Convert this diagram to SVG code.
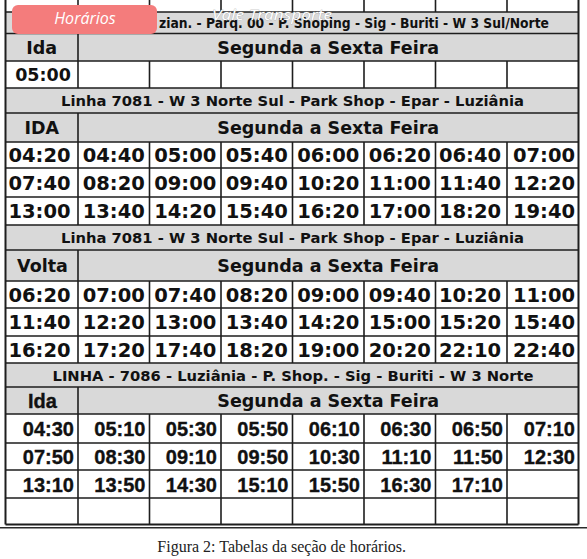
<svg xmlns="http://www.w3.org/2000/svg" width="587" height="559" viewBox="0 0 587 559">
<style>
.bg{fill:#ffffff}
.hd{fill:#d9d9d9}
.ln{stroke:#1e1e1e;stroke-width:1.6;fill:none}
.bd{stroke:#1e1e1e;stroke-width:2;fill:none}
.rt{font-family:"DejaVu Sans",sans-serif;font-weight:bold;font-size:14.8px;fill:#111;text-anchor:middle}
.sg{font-family:"DejaVu Sans",sans-serif;font-weight:bold;font-size:17.5px;fill:#111;text-anchor:middle}
.tm{font-family:"DejaVu Sans",sans-serif;font-weight:bold;font-size:19.5px;fill:#111;text-anchor:middle}
.ta{font-family:"Liberation Sans",Arial,sans-serif;font-weight:bold;font-size:20px;fill:#111;text-anchor:end;stroke:#111;stroke-width:0.35}
.ia{font-family:"Liberation Sans",Arial,sans-serif;font-weight:bold;font-size:20px;fill:#111;text-anchor:middle;stroke:#111;stroke-width:0.35}
.cap{font-family:"Liberation Serif","Times New Roman",serif;font-size:16px;fill:#222;text-anchor:middle}
.hand{font-family:"Open Sans",sans-serif;font-style:italic;fill:#ffffff}
.vt{font-family:"Open Sans",sans-serif;font-style:italic;fill:#ffffff;stroke:#9a9a9a;stroke-width:0.45;paint-order:stroke}
</style>
<rect class="bg" x="0" y="0" width="587" height="559"/>

<g id="grid-fills">
<rect class="hd" x="5.5" y="12" width="573" height="49"/>
<rect class="hd" x="5.5" y="88" width="573" height="54"/>
<rect class="hd" x="5.5" y="225" width="573" height="56"/>
<rect class="hd" x="5.5" y="363" width="573" height="51"/>
</g>

<g id="grid-lines">
<path class="ln" d="M5.5 12H578.5M5.5 33.5H578.5M5.5 61H578.5M5.5 88H578.5M5.5 113H578.5M5.5 142H578.5M5.5 168H578.5M5.5 197H578.5M5.5 225H578.5M5.5 250H578.5M5.5 281H578.5M5.5 308H578.5M5.5 336H578.5M5.5 363H578.5M5.5 387H578.5M5.5 414H578.5M5.5 443H578.5M5.5 470H578.5M5.5 498H578.5"/>
<path class="bd" d="M5.5 524.5H578.5"/>
<path class="bd" d="M5.5 0V524.5M578.5 0V524.5"/>
<path class="ln" d="M78 0V12M78 33.5V88M78 113V225M78 250V363M78 387V524.5"/>
<path class="ln" d="M149.5 0V12M149.5 61V88M149.5 142V225M149.5 281V363M149.5 414V524.5
M221 0V12M221 61V88M221 142V225M221 281V363M221 414V524.5
M292.5 0V12M292.5 61V88M292.5 142V225M292.5 281V363M292.5 414V524.5
M364 0V12M364 61V88M364 142V225M364 281V363M364 414V524.5
M435.5 0V12M435.5 61V88M435.5 142V225M435.5 281V363M435.5 414V524.5
M507 0V12M507 61V88M507 142V225M507 281V363M507 414V524.5"/>
<path d="M0 527.8H587" stroke="#2a2a2a" stroke-width="1.4"/>
</g>

<g id="table-luziania-w3">
<text class="rt" x="354" y="28" text-anchor="middle" textLength="390" lengthAdjust="spacingAndGlyphs" style="font-size:14.2px">zian.  - Parq. 00 - P. Shoping - Sig - Buriti - W 3 Sul/Norte</text>
<text class="sg" x="41.75" y="53.8">Ida</text>
<text class="sg" x="328.25" y="53.8">Segunda a Sexta Feira</text>
<text class="sg" x="43" y="81">05:00</text>
</g>

<g id="table-7081-ida">
<text class="rt" x="292.5" y="106" textLength="463" lengthAdjust="spacingAndGlyphs">Linha 7081 - W 3 Norte Sul - Park Shop - Epar - Luziânia</text>
<text class="sg" x="41.75" y="134">IDA</text>
<text class="sg" x="328.25" y="134">Segunda a Sexta Feira</text>
<g class="tm">
<text x="39.5" y="162">04:20</text><text x="113.75" y="162">04:40</text><text x="185.25" y="162">05:00</text><text x="256.75" y="162">05:40</text><text x="328.25" y="162">06:00</text><text x="399.75" y="162">06:20</text><text x="470" y="162">06:40</text><text x="544" y="162">07:00</text>
<text x="39.5" y="189.8">07:40</text><text x="113.75" y="189.8">08:20</text><text x="185.25" y="189.8">09:00</text><text x="256.75" y="189.8">09:40</text><text x="328.25" y="189.8">10:20</text><text x="399.75" y="189.8">11:00</text><text x="470" y="189.8">11:40</text><text x="544" y="189.8">12:20</text>
<text x="39.5" y="218.3">13:00</text><text x="113.75" y="218.3">13:40</text><text x="185.25" y="218.3">14:20</text><text x="256.75" y="218.3">15:40</text><text x="328.25" y="218.3">16:20</text><text x="399.75" y="218.3">17:00</text><text x="470" y="218.3">18:20</text><text x="544" y="218.3">19:40</text>
</g>
</g>

<g id="table-7081-volta">
<text class="rt" x="292.5" y="243" textLength="463" lengthAdjust="spacingAndGlyphs">Linha 7081 - W 3 Norte Sul - Park Shop - Epar - Luziânia</text>
<text class="sg" x="42.5" y="272">Volta</text>
<text class="sg" x="328.25" y="272">Segunda a Sexta Feira</text>
<g class="tm">
<text x="39.5" y="301.8">06:20</text><text x="113.75" y="301.8">07:00</text><text x="185.25" y="301.8">07:40</text><text x="256.75" y="301.8">08:20</text><text x="328.25" y="301.8">09:00</text><text x="399.75" y="301.8">09:40</text><text x="470" y="301.8">10:20</text><text x="544" y="301.8">11:00</text>
<text x="39.5" y="329.3">11:40</text><text x="113.75" y="329.3">12:20</text><text x="185.25" y="329.3">13:00</text><text x="256.75" y="329.3">13:40</text><text x="328.25" y="329.3">14:20</text><text x="399.75" y="329.3">15:00</text><text x="470" y="329.3">15:20</text><text x="544" y="329.3">15:40</text>
<text x="39.5" y="356.8">16:20</text><text x="113.75" y="356.8">17:20</text><text x="185.25" y="356.8">17:40</text><text x="256.75" y="356.8">18:20</text><text x="328.25" y="356.8">19:00</text><text x="399.75" y="356.8">20:20</text><text x="470" y="356.8">22:10</text><text x="544" y="356.8">22:40</text>
</g>
</g>

<g id="table-7086-ida">
<text class="rt" x="293" y="380.5" textLength="481" lengthAdjust="spacingAndGlyphs">LINHA - 7086 - Luziânia - P. Shop. - Sig - Buriti - W 3 Norte</text>
<text class="ia" x="42.5" y="408">Ida</text>
<text class="sg" x="328.25" y="407">Segunda a Sexta Feira</text>
<g class="ta">
<text x="74" y="436">04:30</text><text x="145.5" y="436">05:10</text><text x="217" y="436">05:30</text><text x="288.5" y="436">05:50</text><text x="360" y="436">06:10</text><text x="431.5" y="436">06:30</text><text x="503" y="436">06:50</text><text x="575" y="436">07:10</text>
<text x="74" y="464">07:50</text><text x="145.5" y="464">08:30</text><text x="217" y="464">09:10</text><text x="288.5" y="464">09:50</text><text x="360" y="464">10:30</text><text x="431.5" y="464">11:10</text><text x="503" y="464">11:50</text><text x="575" y="464">12:30</text>
<text x="74" y="491.5">13:10</text><text x="145.5" y="491.5">13:50</text><text x="217" y="491.5">14:30</text><text x="288.5" y="491.5">15:10</text><text x="360" y="491.5">15:50</text><text x="431.5" y="491.5">16:30</text><text x="503" y="491.5">17:10</text>
</g>
</g>

<g id="badge-horarios">
<rect x="12" y="5" width="145" height="29" rx="6" ry="6" fill="#f47c7c"/>
<text class="hand" x="85" y="24" text-anchor="middle" style="font-size:16px">Horários</text>
</g>

<g id="label-vale-transporte">
<text class="vt" x="212" y="20" textLength="120" lengthAdjust="spacingAndGlyphs" style="font-size:15px">Vale Transporte</text>
</g>

<g id="caption">
<text class="cap" x="281.7" y="551.5">Figura 2: Tabelas da seção de horários.</text>
</g>
</svg>
